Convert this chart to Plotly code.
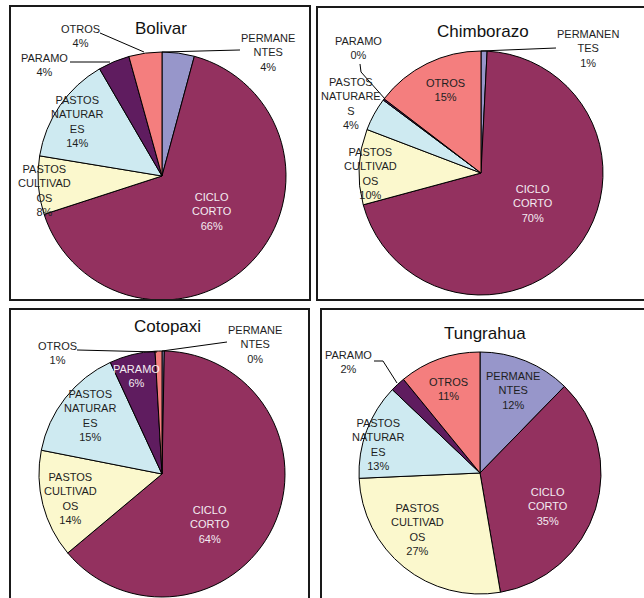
import plotly.graph_objects as go

W, H = 644, 598

# ---------------- data ----------------
categories = ["PERMANENTES", "CICLO CORTO", "PASTOS CULTIVADOS",
              "PASTOS NATURARES", "PARAMO", "OTROS"]
titles = ["Bolivar", "Chimborazo", "Cotopaxi", "Tungrahua"]
bolivar = [4.2, 65.8, 7.6, 14.0, 4.1, 4.3]
chimborazo = [0.8, 70.0, 10.0, 4.4, 0.2, 14.6]
cotopaxi = [0.3, 63.6, 14.2, 15.0, 6.0, 0.9]
tungrahua = [12.3, 35.0, 27.0, 12.8, 2.0, 10.9]
series = [bolivar, chimborazo, cotopaxi, tungrahua]

wrap_std = ["PERMANE<br>NTES", "CICLO<br>CORTO", "PASTOS<br>CULTIVAD<br>OS",
            "PASTOS<br>NATURAR<br>ES", "PARAMO", "OTROS"]
wrap_chim = ["PERMANEN<br>TES", "CICLO<br>CORTO", "PASTOS<br>CULTIVAD<br>OS",
             "PASTOS<br>NATURARE<br>S", "PARAMO", "OTROS"]
wrapped = [wrap_std, wrap_chim, wrap_std, wrap_std]

# ---------------- styles ----------------
colors = ["#9796CA", "#93315F", "#FBF8CD", "#CEEAF1", "#5F1C5F", "#F47E7E"]
# pie centre (px) and radius (px)
pie_geo = [(162, 176, 124), (481, 173, 122), (162, 474, 123), (480, 473, 121)]
title_pos = [(161, 29), (483, 32), (167, 326), (485, 333)]
# label positions: first-line centre (px) for each category
label_pos = [
    [(268, 37), (212, 197), (45, 168), (77, 100), (45, 57), (80, 28)],
    [(588, 33), (533, 188), (370, 151), (351, 82), (358, 40), (445, 83)],
    [(255, 329), (210, 509), (70, 476), (90, 393), (136, 368), (57, 345)],
    [(513, 375), (548, 491), (418, 507), (378, 422), (348, 354), (448, 381)],
]
light_text = [{1}, {1}, {1, 4}, {1}]
leaders = [
    ["M 162,52 L 240,50", "M 110,62 L 70,62", "M 144,52 L 100,33"],
    ["M 481,51 L 556,48", "M 385,99 L 361,72 L 360,64"],
    ["M 162,351 L 227,342", "M 157,352 L 77,350"],
    ["M 397,383 L 383,361 L 374,361"],
]
# frames around each chart (open where they run off the page)
frames = [
    "M 10,6 L 310,6 L 310,300 L 10,300 Z",
    "M 650,7 L 317,7 L 317,300 L 650,300",
    "M 10,610 L 10,309 L 309,309 L 309,610",
    "M 321,610 L 321,309 L 650,309",
]

FONT = "Liberation Sans, Arial, sans-serif"


def px(x):
    return x / W


def py(y):
    return 1 - y / H


def path_paper(p):
    out = []
    for tok in p.split():
        if "," in tok:
            a, b = tok.split(",")
            out.append(f"{px(float(a)):.5f},{py(float(b)):.5f}")
        else:
            out.append(tok)
    return " ".join(out)


fig = go.Figure()
annotations = []
shapes = []

for i, vals in enumerate(series):
    cx, cy, r = pie_geo[i]
    fig.add_trace(go.Pie(
        labels=categories, values=vals, sort=False, direction="clockwise",
        rotation=0, textinfo="none", hoverinfo="label+percent",
        marker=dict(colors=colors, line=dict(color="#000000", width=1)),
        domain=dict(x=[px(cx - r), px(cx + r)], y=[py(cy + r), py(cy - r)]),
        showlegend=False,
    ))
    total = sum(vals)
    for j, v in enumerate(vals):
        pct = round(v / total * 100)
        lx, ly = label_pos[i][j]
        annotations.append(dict(
            x=px(lx), y=py(ly - 7.5), xref="paper", yref="paper",
            xanchor="center", yanchor="top", showarrow=False,
            text=f"{wrapped[i][j]}<br>{pct}%", align="center",
            font=dict(family=FONT, size=11,
                      color="#F4ECF2" if j in light_text[i] else "#1E1E1E"),
        ))
    tx, ty = title_pos[i]
    annotations.append(dict(
        x=px(tx), y=py(ty), xref="paper", yref="paper",
        xanchor="center", yanchor="middle", showarrow=False,
        text=titles[i], font=dict(family=FONT, size=17, color="#111111"),
    ))
    for p in leaders[i]:
        shapes.append(dict(type="path", path=path_paper(p), xref="paper",
                           yref="paper", line=dict(color="#000000", width=1)))

for p in frames:
    shapes.append(dict(type="path", path=path_paper(p), xref="paper",
                       yref="paper", line=dict(color="#1a1a1a", width=2)))

fig.update_layout(
    width=W, height=H, margin=dict(l=0, r=0, t=0, b=0),
    paper_bgcolor="white", plot_bgcolor="white",
    annotations=annotations, shapes=shapes, showlegend=False,
)

fig.write_html(
    "out.html",
    config={"displayModeBar": False},
    post_script=("document.documentElement.style.overflow='hidden';"
                 "document.body.style.margin='0';"
                 "document.body.style.overflow='hidden';"),
)
